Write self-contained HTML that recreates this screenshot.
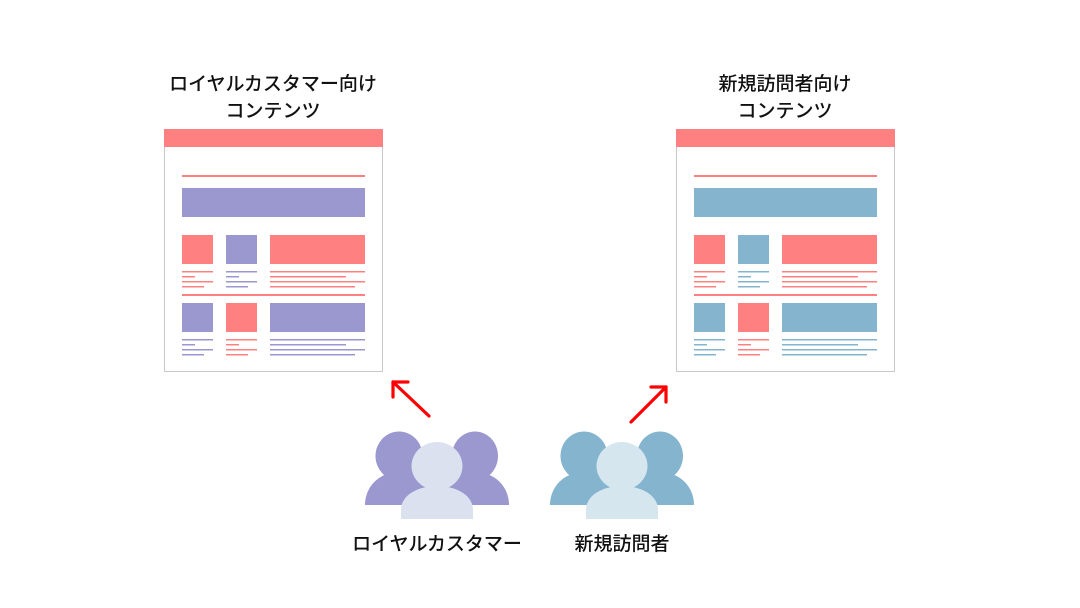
<!DOCTYPE html>
<html><head><meta charset="utf-8"><style>
html,body{margin:0;padding:0;background:#fff;}
svg{display:block;}
text{font-family:"Liberation Sans","Noto Sans CJK JP",sans-serif;font-weight:500;fill:#111;}
</style></head><body>
<svg width="1080" height="608" viewBox="0 0 1080 608" xmlns="http://www.w3.org/2000/svg">
<defs>
<g id="docbase">
  <rect x="164.5" y="129.5" width="218" height="242" fill="#fff" stroke="#c8c8c8" stroke-width="1"/>
  <rect x="164" y="129" width="219" height="18" fill="#ff8080"/>
  <rect x="182" y="175" width="183" height="2" fill="#ff8080"/>
  <rect x="182" y="294" width="183" height="2" fill="#ff8080"/>
</g>
</defs>

<use href="#docbase"/>
<g>
  <rect x="182" y="188" width="183" height="29" fill="#9b97cf"/>
  <rect x="182" y="235" width="31" height="29" fill="#ff8080"/>
  <rect x="226" y="235" width="31" height="29" fill="#9b97cf"/>
  <rect x="270" y="235" width="95" height="29" fill="#ff8080"/>
  <g fill="#ff8080">
    <rect x="182" y="271" width="31" height="1.5"/><rect x="182" y="276" width="13" height="1.5"/><rect x="182" y="281" width="31" height="1.5"/><rect x="182" y="286" width="22" height="1.5"/>
    <rect x="270" y="271" width="95" height="1.5"/><rect x="270" y="276" width="76" height="1.5"/><rect x="270" y="281" width="95" height="1.5"/><rect x="270" y="286" width="85" height="1.5"/>
  </g>
  <g fill="#9b97cf">
    <rect x="226" y="271" width="31" height="1.5"/><rect x="226" y="276" width="13" height="1.5"/><rect x="226" y="281" width="31" height="1.5"/><rect x="226" y="286" width="22" height="1.5"/>
  </g>
  <rect x="182" y="303" width="31" height="29" fill="#9b97cf"/>
  <rect x="226" y="303" width="31" height="29" fill="#ff8080"/>
  <rect x="270" y="303" width="95" height="29" fill="#9b97cf"/>
  <g fill="#9b97cf">
    <rect x="182" y="339" width="31" height="1.5"/><rect x="182" y="344" width="13" height="1.5"/><rect x="182" y="349" width="31" height="1.5"/><rect x="182" y="354" width="22" height="1.5"/>
    <rect x="270" y="339" width="95" height="1.5"/><rect x="270" y="344" width="76" height="1.5"/><rect x="270" y="349" width="95" height="1.5"/><rect x="270" y="354" width="85" height="1.5"/>
  </g>
  <g fill="#ff8080">
    <rect x="226" y="339" width="31" height="1.5"/><rect x="226" y="344" width="13" height="1.5"/><rect x="226" y="349" width="31" height="1.5"/><rect x="226" y="354" width="22" height="1.5"/>
  </g>
</g>

<g transform="translate(512,0)">
  <use href="#docbase"/>
  <rect x="182" y="188" width="183" height="29" fill="#84b4ce"/>
  <rect x="182" y="235" width="31" height="29" fill="#ff8080"/>
  <rect x="226" y="235" width="31" height="29" fill="#84b4ce"/>
  <rect x="270" y="235" width="95" height="29" fill="#ff8080"/>
  <g fill="#ff8080">
    <rect x="182" y="271" width="31" height="1.5"/><rect x="182" y="276" width="13" height="1.5"/><rect x="182" y="281" width="31" height="1.5"/><rect x="182" y="286" width="22" height="1.5"/>
    <rect x="270" y="271" width="95" height="1.5"/><rect x="270" y="276" width="76" height="1.5"/><rect x="270" y="281" width="95" height="1.5"/><rect x="270" y="286" width="85" height="1.5"/>
  </g>
  <g fill="#84b4ce">
    <rect x="226" y="271" width="31" height="1.5"/><rect x="226" y="276" width="13" height="1.5"/><rect x="226" y="281" width="31" height="1.5"/><rect x="226" y="286" width="22" height="1.5"/>
  </g>
  <rect x="182" y="303" width="31" height="29" fill="#84b4ce"/>
  <rect x="226" y="303" width="31" height="29" fill="#ff8080"/>
  <rect x="270" y="303" width="95" height="29" fill="#84b4ce"/>
  <g fill="#84b4ce">
    <rect x="182" y="339" width="31" height="1.5"/><rect x="182" y="344" width="13" height="1.5"/><rect x="182" y="349" width="31" height="1.5"/><rect x="182" y="354" width="22" height="1.5"/>
    <rect x="270" y="339" width="95" height="1.5"/><rect x="270" y="344" width="76" height="1.5"/><rect x="270" y="349" width="95" height="1.5"/><rect x="270" y="354" width="85" height="1.5"/>
  </g>
  <g fill="#ff8080">
    <rect x="226" y="339" width="31" height="1.5"/><rect x="226" y="344" width="13" height="1.5"/><rect x="226" y="349" width="31" height="1.5"/><rect x="226" y="354" width="22" height="1.5"/>
  </g>
</g>

<text x="273" y="90" font-size="19" text-anchor="middle">ロイヤルカスタマー向け</text>
<text x="273" y="117" font-size="19" text-anchor="middle">コンテンツ</text>
<text x="785" y="90" font-size="19" text-anchor="middle">新規訪問者向け</text>
<text x="785" y="117" font-size="19" text-anchor="middle">コンテンツ</text>

<g stroke="#ff0000" stroke-width="3.2" fill="none" stroke-linecap="round" stroke-linejoin="round">
  <path d="M429 416 L393 382"/>
  <path d="M393 397 L393 382 L408 382"/>
  <path d="M631 422 L666 387"/>
  <path d="M651 387 L666 387 L666 402"/>
</g>

<g>
  <ellipse cx="399" cy="456" rx="23.5" ry="24.5" fill="#9b97cf"/>
  <path d="M365 505 C365 486 380 472 399 472 C418 472 433 486 433 505 Z" fill="#9b97cf"/>
  <ellipse cx="475" cy="456" rx="23" ry="24.5" fill="#9b97cf"/>
  <path d="M441 505 C441 486 456 472 475 472 C494 472 509 486 509 505 Z" fill="#9b97cf"/>
  <ellipse cx="437" cy="466" rx="25.5" ry="24" fill="#dce1f0"/>
  <path d="M401 519 V510 C401 495 418 486 437 486 C456 486 473 495 473 510 V519 Z" fill="#dce1f0"/>
</g>
<g transform="translate(185,0)">
  <ellipse cx="399" cy="456" rx="23.5" ry="24.5" fill="#84b4ce"/>
  <path d="M365 505 C365 486 380 472 399 472 C418 472 433 486 433 505 Z" fill="#84b4ce"/>
  <ellipse cx="475" cy="456" rx="23" ry="24.5" fill="#84b4ce"/>
  <path d="M441 505 C441 486 456 472 475 472 C494 472 509 486 509 505 Z" fill="#84b4ce"/>
  <ellipse cx="437" cy="466" rx="25.5" ry="24" fill="#d6e6ee"/>
  <path d="M401 519 V510 C401 495 418 486 437 486 C456 486 473 495 473 510 V519 Z" fill="#d6e6ee"/>
</g>

<text x="437" y="550" font-size="19" text-anchor="middle">ロイヤルカスタマー</text>
<text x="622" y="550" font-size="19" text-anchor="middle">新規訪問者</text>
</svg>
</body></html>
